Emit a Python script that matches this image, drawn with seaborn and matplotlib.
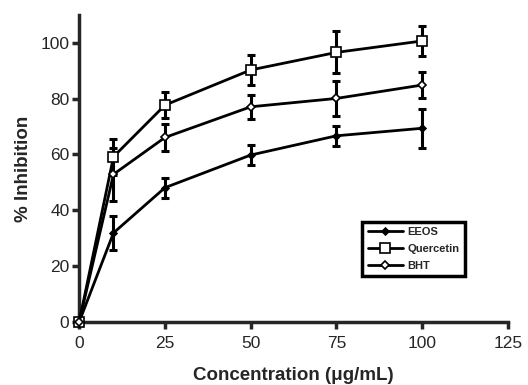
import pandas as pd
import matplotlib
matplotlib.use("Agg")
import matplotlib.pyplot as plt
import seaborn as sns

sns.set_style("ticks")
plt.rcParams["font.family"] = ["Liberation Sans", "DejaVu Sans"]

conc = [0, 10, 25, 50, 75, 100]
eeos = [0, 31.9, 48.1, 59.8, 66.7, 69.4]
eeos_err = [0, 6.0, 3.6, 3.5, 3.6, 7.0]
quercetin = [0, 59.2, 77.7, 90.3, 96.6, 100.7]
quercetin_err = [0, 6.5, 4.6, 5.4, 7.5, 5.5]
bht = [0, 52.9, 66.1, 77.1, 80.1, 84.9]
bht_err = [0, 9.5, 5.0, 4.2, 6.3, 4.5]

series = [
    ("EEOS", eeos, eeos_err, "D", 3.5, "black"),
    ("Quercetin", quercetin, quercetin_err, "s", 7.5, "white"),
    ("BHT", bht, bht_err, "D", 4.5, "white"),
]

fig = plt.figure(figsize=(5.28, 3.85), dpi=100)
ax = fig.add_axes([0.150, 0.164, 0.812, 0.797])

for name, vals, errs, mk, ms, face in series:
    df = pd.DataFrame({"conc": conc, "val": vals})
    ax.errorbar(conc, vals, yerr=errs, fmt="none", ecolor="black",
                elinewidth=2.2, capsize=3, capthick=2.2, zorder=2, clip_on=False)
    sns.lineplot(data=df, x="conc", y="val", ax=ax, color="black", lw=2.0,
                 marker=mk, ms=ms, mfc=face, mec="black", mew=1.2,
                 label=name, zorder=3, clip_on=False)

ax.set_xlim(0, 125)
ax.set_ylim(0, 110)
ax.set_xticks([0, 25, 50, 75, 100, 125])
ax.set_yticks([0, 20, 40, 60, 80, 100])
for s in ["top", "right"]:
    ax.spines[s].set_visible(False)
for s in ["left", "bottom"]:
    ax.spines[s].set_linewidth(2.5)
ax.tick_params(width=2.5, length=5, labelsize=12.5)
ax.tick_params(axis="x", pad=5)
ax.tick_params(axis="y", pad=2)
ax.set_xlabel("Concentration (\u03bcg/mL)", fontsize=13.5, fontweight="bold", labelpad=12)
ax.set_ylabel("% Inhibition", fontsize=13.5, fontweight="bold", labelpad=6)

leg = ax.legend(loc="lower left", bbox_to_anchor=(0.647, 0.131), frameon=True,
                fancybox=False, framealpha=1, edgecolor="black",
                prop={"weight": "bold", "size": 8}, handlelength=3.2,
                handletextpad=0.4, borderpad=0.5, labelspacing=0.6)
leg.get_frame().set_linewidth(2.5)

fig.savefig("out.png", dpi=100)
